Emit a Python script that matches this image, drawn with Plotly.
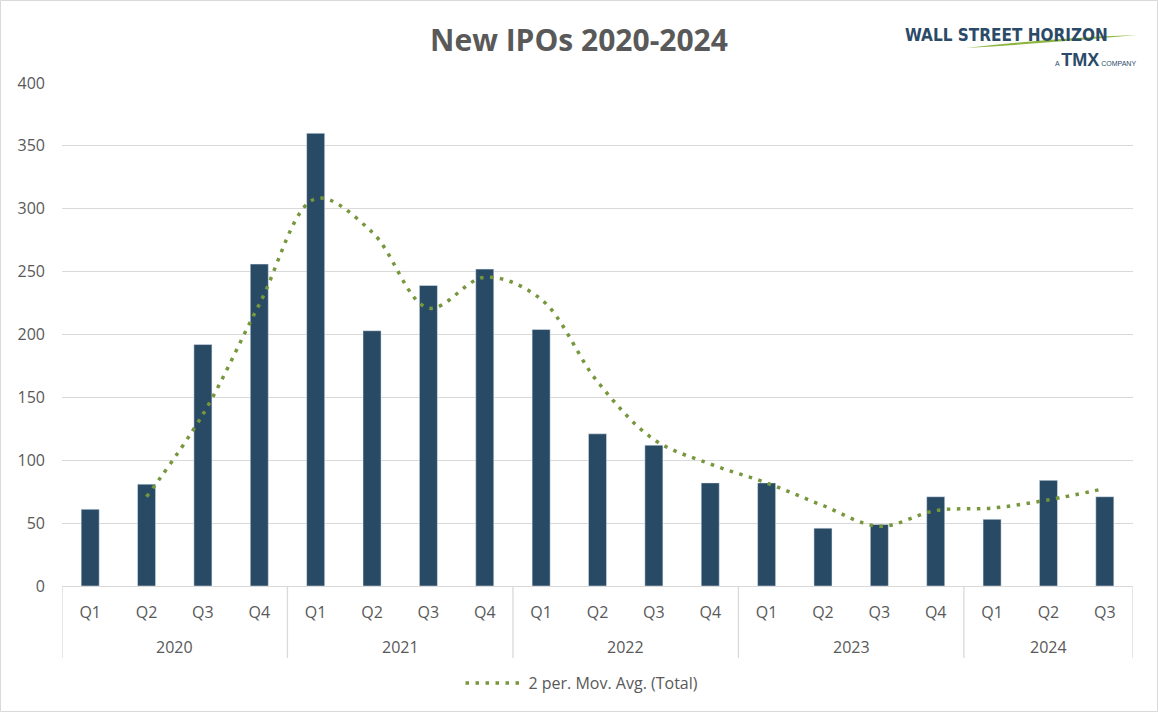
import plotly.graph_objects as go

# ---- data ----
years = ["2020"] * 4 + ["2021"] * 4 + ["2022"] * 4 + ["2023"] * 4 + ["2024"] * 3
quarters = ["Q1", "Q2", "Q3", "Q4"] * 4 + ["Q1", "Q2", "Q3"]
ipos = [61, 81, 192, 256, 360, 203, 239, 252, 204, 121, 112, 82, 82, 46, 49, 71, 53, 84, 71]

ma_values = [71, 136.5, 224, 308, 281.5, 221, 245.5, 228, 162.5, 116.5, 97, 82, 64, 47.5, 60, 62, 68.5, 77.5]

title_text = "New IPOs 2020-2024"
legend_name = "2 per. Mov. Avg. (Total)"

# category keys built from the data above
x_keys = [f"{y} {q}" for y, q in zip(years, quarters)]
ma_keys = x_keys[1:]

# ---- layout geometry ----
W, H = 1158, 712
ML, MR, MT, MB = 62, 25, 83, 126
PW, PH = W - ML - MR, H - MT - MB
TXT = "#595959"
GRID = "#D9D9D9"
BAR = "#294A64"
GREEN = "#77973D"
FONT = "Open Sans, Carlito, Liberation Sans, sans-serif"


def px(x):
    return (x - ML) / PW


def py(y):
    return (H - MB - y) / PH


fig = go.Figure()
fig.add_trace(go.Bar(
    x=x_keys, y=ipos, marker_color=BAR, showlegend=False,
    name="Total", hoverinfo="y",
))
fig.add_trace(go.Scatter(
    x=ma_keys, y=ma_values, mode="lines", name=legend_name,
    line=dict(color=GREEN, width=3.5, dash="3.5px,6.5px", shape="spline", smoothing=1.0),
))

# year groups: label centres and divider positions (category indices)
groups = []
for i, y in enumerate(years):
    if not groups or groups[-1][0] != y:
        groups.append([y, i, i])
    else:
        groups[-1][2] = i

shapes = [
    dict(type="rect", xref="paper", yref="paper",
         x0=px(0.5), x1=px(W - 0.5), y0=py(H - 0.5), y1=py(0.5),
         line=dict(color=GRID, width=1), fillcolor="rgba(0,0,0,0)", layer="below"),
]
annotations = []
div_pos = [groups[0][1] - 0.5] + [g[2] + 0.5 for g in groups]
for d in div_pos:
    shapes.append(dict(type="line", xref="x", yref="paper", x0=d, x1=d, y0=0, y1=py(658),
                       line=dict(color=GRID, width=1.3)))
for name, a, b in groups:
    annotations.append(dict(text=name, x=(a + b) / 2, y=py(647), xref="x", yref="paper",
                            showarrow=False, xanchor="center", yanchor="middle",
                            font=dict(family=FONT, size=16, color=TXT)))

# logo swoosh
sx0, sy0 = px(966), py(48)
sx1, sy1 = px(1137), py(35)
cx, cy1, cy2 = px(1050), py(38), py(43)
swoosh = f"M {sx0},{sy0} Q {cx},{cy1} {sx1},{sy1} Q {cx},{cy2} {sx0},{sy0} Z"
shapes.append(dict(type="path", xref="paper", yref="paper", path=swoosh,
                   fillcolor="#8DB43F", line=dict(width=0), layer="above"))

annotations += [
    dict(text="<b>WALL STREET HORIZON</b>", x=px(1006), y=py(35), xref="paper", yref="paper",
         showarrow=False, xanchor="center", yanchor="middle",
         font=dict(family="DejaVu Sans Condensed, Liberation Sans Narrow, sans-serif",
                   size=17, color="#2B4A68")),
    dict(text="A <b><span style='font-size:18px'>TMX</span></b> COMPANY", x=px(1138), y=py(60),
         xref="paper", yref="paper", showarrow=False, xanchor="right", yanchor="middle",
         font=dict(family="Liberation Sans, Arial, sans-serif", size=7, color="#2B4A68")),
]

fig.update_layout(
    width=W, height=H,
    margin=dict(l=ML, r=MR, t=MT, b=MB),
    paper_bgcolor="white", plot_bgcolor="white",
    title=dict(text="<b>" + title_text + "</b>", x=0.5, xref="container", xanchor="center",
               y=1 - 40 / H, yref="container", yanchor="middle",
               font=dict(family=FONT, size=30, color=TXT)),
    font=dict(family=FONT, size=16, color=TXT),
    bargap=0.68,
    xaxis=dict(type="category", range=[-0.5, len(x_keys) - 0.5], showgrid=False,
               showline=True, linecolor=GRID, linewidth=1.3, ticks="",
               tickmode="array", tickvals=x_keys, ticktext=quarters,
               tickfont=dict(family=FONT, size=16, color=TXT), ticklabelstandoff=12),
    yaxis=dict(range=[0, 400], dtick=50, showgrid=True, gridcolor=GRID, gridwidth=1.3,
               zeroline=False, showline=False, ticks="",
               tickfont=dict(family=FONT, size=16, color=TXT), ticklabelstandoff=16),
    legend=dict(orientation="h", x=px(582), xanchor="center", y=py(683), yanchor="middle",
                itemwidth=58,
                font=dict(family=FONT, size=16, color=TXT), bgcolor="rgba(0,0,0,0)"),
    shapes=shapes,
    annotations=annotations,
)

fig.write_html("out.html", config={"displayModeBar": False},
               post_script="document.body.style.margin='0px';")
